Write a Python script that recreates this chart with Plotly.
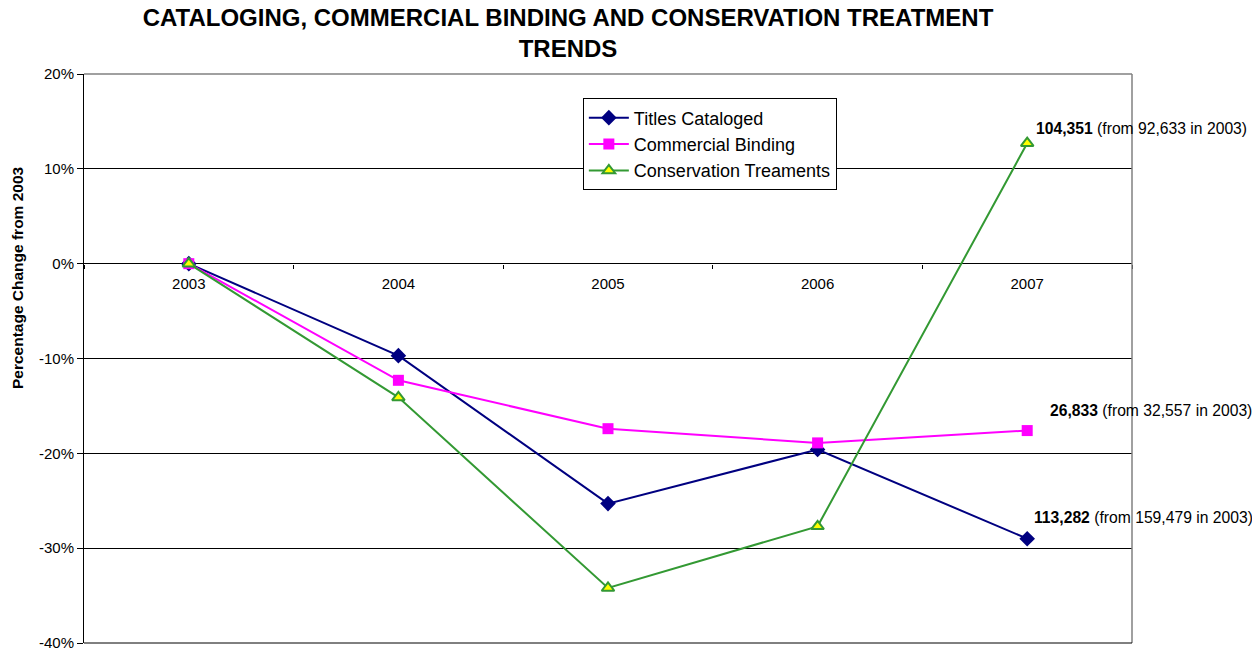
import plotly.graph_objects as go

years = ["2003", "2004", "2005", "2006", "2007"]

# percentage change from 2003
titles_cataloged = [0, -9.7, -25.3, -19.6, -29.0]
commercial_binding = [0, -12.3, -17.4, -18.9, -17.6]
conservation_treatments = [0, -14.1, -34.2, -27.7, 12.7]

# y axis ticks
y_ticks = [20, 10, 0, -10, -20, -30, -40]
y_tick_text = ["20%", "10%", "0%", "-10%", "-20%", "-30%", "-40%"]

# 2007 counts and 2003 base counts for the end labels
count_2007 = ["113,282", "26,833", "104,351"]
count_2003 = ["159,479", "32,557", "92,633"]

FONT = "Liberation Sans, Arial, sans-serif"

fig = go.Figure()

fig.add_trace(go.Scatter(x=years, y=titles_cataloged, mode="lines+markers", name="Titles Cataloged",
                         line=dict(color="#000080", width=2),
                         marker=dict(symbol="diamond", size=12, color="#000080")))
fig.add_trace(go.Scatter(x=years, y=commercial_binding, mode="lines+markers", name="Commercial Binding",
                         line=dict(color="#FF00FF", width=2),
                         marker=dict(symbol="square", size=11, color="#FF00FF")))
fig.add_trace(go.Scatter(x=years, y=conservation_treatments, mode="lines+markers", name="Conservation Treaments",
                         line=dict(color="#339933", width=2),
                         marker=dict(symbol="triangle-up", size=11, color="#FFFF00",
                                     line=dict(color="#339933", width=2))))

# end-of-line labels (positioned on the 2007 category)
series_end = [titles_cataloged[-1], commercial_binding[-1], conservation_treatments[-1]]
shifts = [(5, 21), (21, 20), (7, 15)]
for val, c07, c03, (dx, dy) in zip(series_end, count_2007, count_2003, shifts):
    fig.add_annotation(x=len(years) - 1, y=val, xref="x", yref="y",
                       text="<b>%s</b> (from %s in 2003)" % (c07, c03),
                       showarrow=False, xanchor="left", yanchor="middle",
                       xshift=dx, yshift=dy, font=dict(size=15.7, color="black"))

# y axis title sits above the axis centre in the original
fig.add_annotation(x=-0.064, y=0.643, xref="paper", yref="paper",
                   text="<b>Percentage Change from 2003</b>", textangle=-90,
                   showarrow=False, xanchor="center", yanchor="middle",
                   font=dict(size=15.5, color="black"))

# plot frame: grey top/right, black bottom
fig.add_shape(type="line", xref="paper", yref="paper", x0=0, x1=1, y0=1, y1=1,
              line=dict(color="#808080", width=1.5))
fig.add_shape(type="line", xref="paper", yref="paper", x0=1, x1=1, y0=0, y1=1,
              line=dict(color="#808080", width=1.5))
fig.add_shape(type="line", xref="paper", yref="paper", x0=0, x1=1, y0=0, y1=0,
              line=dict(color="black", width=1))

# the page body has an 8px margin, so the figure is 8px smaller than the window
fig.update_layout(
    width=1252, height=644,
    title=dict(text="<b>CATALOGING, COMMERCIAL BINDING AND CONSERVATION TREATMENT<br>TRENDS</b>",
               x=560 / 1252, xanchor="center", y=1 - 18 / 644, yanchor="top", pad=dict(t=0),
               font=dict(size=24, color="black")),
    font=dict(family=FONT, color="black", size=15),
    plot_bgcolor="white",
    paper_bgcolor="white",
    margin=dict(l=76, r=128, t=66, b=9, autoexpand=False),
    showlegend=True,
    legend=dict(x=0.476, y=0.957, xanchor="left", yanchor="top",
                bgcolor="white", bordercolor="black", borderwidth=1,
                font=dict(size=18), tracegroupgap=0, itemwidth=40),
    xaxis=dict(type="category", categoryorder="array", categoryarray=years,
               tickson="boundaries", ticks="outside", ticklen=4, tickcolor="black",
               showline=False, showgrid=False, anchor="free", position=2 / 3,
               range=[-0.5, 4.5], tickfont=dict(size=15), ticklabelstandoff=9),
    yaxis=dict(range=[-40, 20], tickmode="array", tickvals=y_ticks, ticktext=y_tick_text,
               showgrid=True, gridcolor="black", gridwidth=1,
               zeroline=False, showline=True, linecolor="black", linewidth=1,
               ticks="outside", ticklen=6, tickcolor="black",
               tickfont=dict(size=15)),
)

fig.write_html("out.html")
